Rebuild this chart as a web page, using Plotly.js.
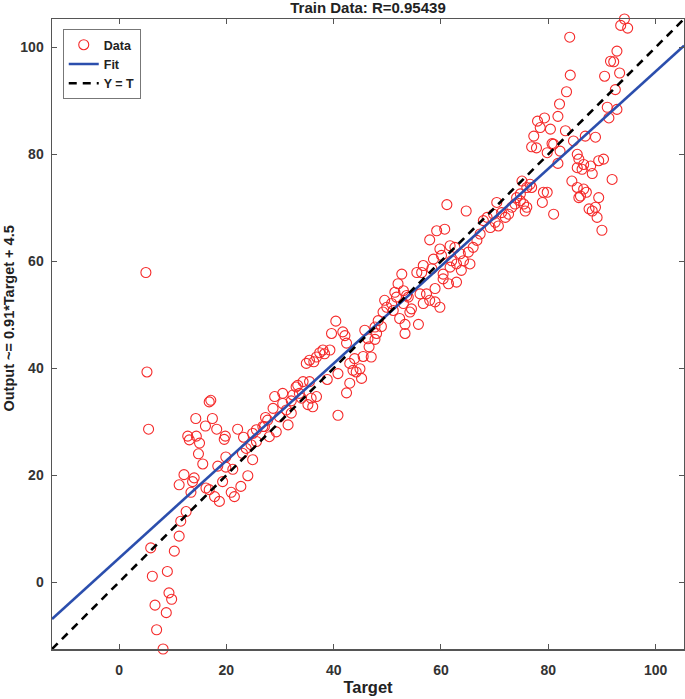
<!DOCTYPE html>
<html>
<head>
<meta charset="utf-8">
<script src="https://cdn.plot.ly/plotly-3.0.1.min.js"></script>
<style>
  html, body { margin: 0; padding: 0; background: #ffffff; }
  #chart { width: 685px; height: 699px; }
</style>
</head>
<body>
<div id="chart"></div>
<script>
// Target values (x)
const target = [
  5.0, 5.2, 5.5, 5.9, 10.3, 9.0, 6.2, 9.3, 9.8, 6.7, 8.8, 7.0, 8.2,
  11.2, 11.5, 12.5, 11.2, 12.1, 13.4, 14.0, 13.7, 15.6, 16.2, 16.8, 17.8, 18.7,
  18.4, 19.3, 19.9, 19.9, 21.2, 20.9, 21.5, 22.7, 24.0, 24.9,
  12.8, 13.1, 14.4, 14.3, 15.0, 14.8, 16.1, 17.1, 16.8, 17.4, 18.2, 19.8, 19.6, 22.1, 23.2,
  23.7, 23.0, 24.6, 25.6, 24.9, 25.6, 26.8, 27.7, 28.7, 29.0, 30.5, 32.4, 33.0,
  29.9, 31.2, 32.1, 31.5, 29.3, 28.0, 27.1, 27.3,
  33.6, 33.3, 34.3, 35.5, 34.0, 35.8, 36.8, 36.1, 35.2, 30.5, 32.1,
  34.9, 35.5, 36.3, 36.8, 37.4, 38.0, 38.3, 39.3, 39.6, 40.4, 41.7, 42.1, 42.4,
  38.8, 40.8, 40.8, 42.4, 43.0, 45.2, 44.9, 43.6, 44.2, 43.0, 43.9, 47.0, 45.5,
  46.6, 45.8, 46.4, 47.7, 48.0, 48.3, 47.7, 48.9,
  49.2, 49.9, 49.5, 50.8, 51.1, 51.7, 51.4, 52.0, 53.0, 53.6, 52.3, 53.3, 53.3,
  54.2, 54.5, 55.8, 52.7, 55.5, 56.4, 56.7, 58.3, 58.6, 60.1,
  56.1, 57.3, 57.9, 58.9, 59.8, 58.9, 60.4,
  61.1, 64.7, 60.7, 59.2, 57.9, 59.8, 53.9, 53.0, 56.7,
  61.7, 62.6, 63.6, 64.2, 65.1, 66.0, 66.7, 67.3, 67.9, 68.6, 69.2, 70.1, 70.7,
  69.8, 70.4, 71.3, 72.0, 72.6, 73.2, 73.8, 74.8, 75.4, 75.7, 76.0, 74.1, 74.8,
  75.1, 76.6, 76.9, 79.1, 79.8, 78.9, 81.0,
  62.0, 62.9, 61.7, 65.4, 63.8, 62.9, 61.4, 60.4,
  94.2, 93.5, 94.8, 84.0, 92.8, 91.6, 92.2, 93.3, 90.5, 84.1, 92.5, 83.4, 82.1,
  81.8, 79.3, 78.0, 78.5, 80.4, 83.2, 77.3, 76.9, 77.8, 80.7, 82.2, 84.7, 86.9,
  88.8, 91.0, 92.8, 91.3, 81.8, 85.4, 85.7, 85.4, 86.6, 86.3, 87.9, 88.2, 89.4, 90.3,
  91.9, 84.4, 86.6, 87.1, 86.0, 89.4, 87.6, 88.2, 88.8, 89.1, 90.0,
  76.0, 81.0, 79.8, 85.4, 85.7
];
// Output values (y)
const output = [
  57.9, 39.3, 28.6, 6.4, 5.8, 2.0, 1.1, -2.0, -3.2, -4.3, -5.7, -8.9, -12.5,
  8.6, 11.4, 13.2, 18.2, 20.1, 16.8, 19.5, 18.8, 22.1, 17.6, 17.3, 16.0, 15.1,
  21.7, 18.8, 23.4, 21.5, 21.1, 16.8, 16.0, 17.9, 19.9, 22.9,
  27.3, 26.6, 27.3, 30.6, 26.0, 24.0, 29.2, 34.0, 33.7, 30.6, 28.6, 27.3, 26.7, 28.6, 27.1,
  25.0, 24.1, 25.7, 26.3, 27.8, 28.5, 29.1, 30.3, 32.5, 34.7, 35.3, 35.0, 36.5,
  30.9, 32.2, 31.6, 29.4, 28.1, 27.2, 29.1, 30.8,
  35.3, 36.8, 37.5, 37.5, 34.4, 34.4, 34.7, 32.8, 33.2, 33.4, 33.9,
  40.9, 41.5, 41.2, 42.1, 42.9, 43.4, 42.7, 43.4, 46.5, 48.8, 46.8, 46.1, 44.7,
  37.9, 39.0, 31.2, 35.4, 37.2, 38.1, 39.9, 39.6, 39.3, 40.9, 41.8, 42.1, 42.2,
  44.0, 47.1, 45.5, 45.4, 46.5, 48.9, 47.7, 47.8,
  50.5, 51.4, 52.7, 52.1, 50.8, 53.3, 54.2, 55.8, 54.5, 53.6, 49.3, 48.2, 46.5,
  50.5, 51.1, 48.2, 57.6, 57.9, 57.9, 59.2, 58.6, 60.4, 61.1,
  53.9, 53.9, 52.7, 52.4, 51.4, 54.9, 56.7,
  70.6, 69.4, 66.0, 65.7, 64.0, 62.3, 53.3, 52.1, 52.1,
  62.9, 62.6, 61.4, 60.1, 61.7, 62.6, 63.9, 65.1, 67.6, 68.2, 66.3, 67.3, 66.6,
  68.8, 71.0, 69.1, 68.2, 68.8, 70.1, 70.7, 71.3, 70.7, 69.4, 70.1, 71.9, 72.6,
  75.0, 74.4, 73.8, 72.9, 72.9, 71.0, 68.8,
  60.1, 59.5, 58.9, 59.5, 58.3, 56.1, 55.8, 57.6,
  105.3, 104.1, 103.6, 101.9, 99.3, 97.4, 97.3, 95.2, 94.6, 94.8, 92.1, 91.7, 89.4,
  87.1, 86.8, 86.2, 85.0, 84.7, 84.4, 83.4, 81.4, 81.2, 82.0, 80.6, 82.5, 83.4,
  83.2, 88.8, 88.4, 86.8, 78.3, 80.0, 79.1, 77.5, 78.1, 77.2, 77.8, 76.4, 78.8, 79.1,
  75.3, 75.0, 73.5, 72.9, 72.2, 71.9, 69.8, 69.4, 70.1, 68.2, 65.8,
  73.8, 81.9, 80.3, 73.8, 71.9
];
// Axis limits (same for both axes) and fit coefficients
const limits = [-12.5, 105.3];
const fitSlope = 0.91;
const fitIntercept = 4.5;
const tickValues = [0, 20, 40, 60, 80, 100];
const tickLabels = ['0', '20', '40', '60', '80', '100'];
const titleText = 'Train Data: R=0.95439';
const xTitle = 'Target';
const yTitle = 'Output ~= 0.91*Target + 4.5';

const fitY = limits.map(v => fitSlope * v + fitIntercept);

const FONT = 'Liberation Sans, Arial, Helvetica, sans-serif';

const traces = [
  {
    x: target, y: output, type: 'scatter', mode: 'markers', name: 'Data',
    cliponaxis: false,
    marker: { symbol: 'circle-open', size: 10, color: '#f52a2a', line: { width: 1.1 } }
  },
  {
    x: limits, y: fitY, type: 'scatter', mode: 'lines', name: 'Fit',
    line: { color: '#2b4ead', width: 2.6 }
  },
  {
    x: limits, y: limits, type: 'scatter', mode: 'lines', name: 'Y = T',
    line: { color: '#000000', width: 2.6, dash: '8px,6px' }
  }
];

const axisCommon = {
  range: limits,
  tickvals: tickValues,
  ticktext: tickLabels,
  ticks: 'inside',
  ticklen: 5,
  tickwidth: 1,
  tickcolor: '#555555',
  showline: true,
  linecolor: '#555555',
  linewidth: 1.5,
  mirror: 'ticks',
  showgrid: false,
  zeroline: false,
  tickfont: { family: FONT, size: 14, color: '#333333', weight: 'bold' }
};

const layout = {
  width: 685, height: 699,
  margin: { l: 52, r: 1, t: 19, b: 50, pad: 0 },
  paper_bgcolor: '#ffffff', plot_bgcolor: '#ffffff',
  showlegend: true,
  title: {
    text: titleText,
    font: { family: FONT, size: 15, color: '#222222', weight: 'bold' },
    xref: 'paper', x: 0.5, xanchor: 'center',
    yref: 'container', y: 1, yanchor: 'top',
    pad: { t: 2 }
  },
  xaxis: Object.assign({}, axisCommon, {
    ticklabelstandoff: 8,
    title: { text: xTitle, font: { family: FONT, size: 16.5, color: '#222222', weight: 'bold' }, standoff: 4 }
  }),
  yaxis: Object.assign({}, axisCommon, {
    ticklabelstandoff: 4
  }),
  annotations: [
    {
      text: yTitle, xref: 'paper', yref: 'paper',
      x: -0.0688, y: 0.5238, xanchor: 'center', yanchor: 'middle',
      textangle: -90, showarrow: false,
      font: { family: FONT, size: 14.5, color: '#222222', weight: 'bold' }
    }
  ],
  legend: {
    x: 0.017, y: 0.984, xanchor: 'left', yanchor: 'top',
    bgcolor: '#ffffff', bordercolor: '#777777', borderwidth: 1,
    font: { family: FONT, size: 12.5, color: '#222222', weight: 'bold' },
    tracegroupgap: 0
  }
};

Plotly.newPlot('chart', traces, layout, { displayModeBar: false, staticPlot: true });
</script>
</body>
</html>
